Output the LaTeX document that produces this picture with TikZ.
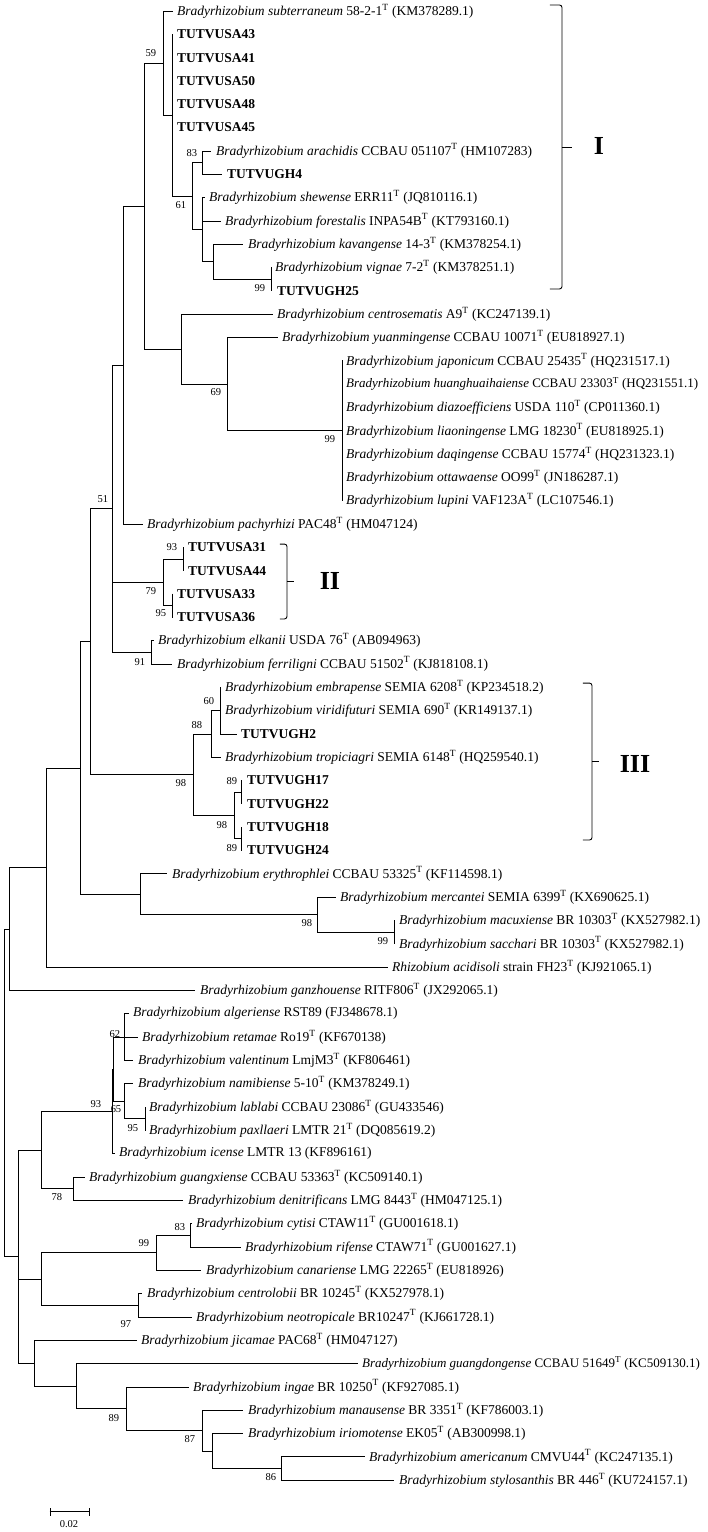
\documentclass[tikz,border=0pt]{standalone}
\usepackage{fontspec}
\setmainfont{Liberation Serif}
\newcommand\tsup{\textsuperscript{T}}
\begin{document}
\begin{tikzpicture}[x=1pt,y=-23.32pt,
  br/.style={line width=0.75pt,line cap=rect},
  leaf/.style={anchor=west,inner sep=0pt,font=\fontsize{13.5}{14}\selectfont},
  leafn/.style={anchor=west,inner sep=0pt,font=\fontsize{13}{14}\selectfont},
  boot/.style={inner sep=0pt,font=\fontsize{10.5}{11}\selectfont},
  roman/.style={inner sep=0pt,font=\fontsize{26}{28}\selectfont\bfseries},
  brk/.style={line width=0.9pt,rounded corners=2.5pt}]
\useasboundingbox (0,0.5283) rectangle (708,66.224);
% internal nodes
\coordinate (root) at (4.6,47.39);
\coordinate (n9) at (9,40.37);
\coordinate (n46) at (46,37.73);
\coordinate (n80) at (80,33.46);
\coordinate (n90) at (90,28.05);
\coordinate (n82) at (112,22.34);
\coordinate (n89) at (123,16.18);
\coordinate (n105) at (144,9.37);
\coordinate (n118) at (163,3.23);
\coordinate (n125) at (172,5.47);
\coordinate (n139) at (192,8.94);
\coordinate (n147a) at (202,7.5);
\coordinate (n147b) at (202,10.375);
\coordinate (n155) at (213,11.75);
\coordinate (n197) at (271,12.5);
\coordinate (n132) at (181,15.5);
\coordinate (n165) at (227,17);
\coordinate (n248) at (342,19);
\coordinate (nII) at (163,25.5);
\coordinate (n133) at (183,24.5);
\coordinate (n125b) at (172,26.5);
\coordinate (n110) at (151,28.5);
\coordinate (n140) at (193,33.75);
\coordinate (n153) at (211,32);
\coordinate (n160) at (220,31);
\coordinate (n170) at (234,35.5);
\coordinate (n175a) at (241,34.5);
\coordinate (n175b) at (241,36.5);
\coordinate (n140b) at (140,38.875);
\coordinate (n317) at (317,39.75);
\coordinate (n287) at (394,40.5);
\coordinate (n18) at (18,54.41);
\coordinate (n41) at (41,49.84);
\coordinate (n112) at (112,48.19);
\coordinate (nY) at (113,46.375);
\coordinate (n124a) at (124,45);
\coordinate (n124b) at (124,47.75);
\coordinate (n145) at (145,48.5);
\coordinate (n73) at (73,51.5);
\coordinate (n41b) at (41,55.375);
\coordinate (n156) at (156,54.25);
\coordinate (n190) at (190,53.5);
\coordinate (n138) at (138,56.5);
\coordinate (n34) at (34,58.98);
\coordinate (n76) at (76,59.97);
\coordinate (n126) at (126,60.94);
\coordinate (n202) at (202,61.875);
\coordinate (n212) at (212,62.75);
\coordinate (n281) at (281,63.5);
% tips and leaf labels
\coordinate (t1) at (173,1); \node[leaf] (L1) at (177,1) {\textit{Bradyrhizobium subterraneum} 58-2-1\tsup{} (KM378289.1)};
\coordinate (t2) at (172,2); \node[leaf] (L2) at (177,2) {\textbf{TUTVUSA43}};
\coordinate (t3) at (172,3); \node[leaf] (L3) at (177,3) {\textbf{TUTVUSA41}};
\coordinate (t4) at (172,4); \node[leaf] (L4) at (177,4) {\textbf{TUTVUSA50}};
\coordinate (t5) at (172,5); \node[leaf] (L5) at (177,5) {\textbf{TUTVUSA48}};
\coordinate (t6) at (172,6); \node[leaf] (L6) at (177,6) {\textbf{TUTVUSA45}};
\coordinate (t7) at (211,7); \node[leaf] (L7) at (216,7) {\textit{Bradyrhizobium arachidis} CCBAU 051107\tsup{} (HM107283)};
\coordinate (t8) at (222,8); \node[leaf] (L8) at (227,8) {\textbf{TUTVUGH4}};
\coordinate (t9) at (205,9); \node[leaf] (L9) at (209,9) {\textit{Bradyrhizobium shewense} ERR11\tsup{} (JQ810116.1)};
\coordinate (t10) at (221,10); \node[leaf] (L10) at (225,10) {\textit{Bradyrhizobium forestalis} INPA54B\tsup{} (KT793160.1)};
\coordinate (t11) at (243,11); \node[leaf] (L11) at (248,11) {\textit{Bradyrhizobium kavangense} 14-3\tsup{} (KM378254.1)};
\coordinate (t12) at (271,12); \node[leaf] (L12) at (275,12) {\textit{Bradyrhizobium vignae} 7-2\tsup{} (KM378251.1)};
\coordinate (t13) at (271,13); \node[leaf] (L13) at (277,13) {\textbf{TUTVUGH25}};
\coordinate (t14) at (273,14); \node[leaf] (L14) at (277,14) {\textit{Bradyrhizobium centrosematis} A9\tsup{} (KC247139.1)};
\coordinate (t15) at (278,15); \node[leaf] (L15) at (282,15) {\textit{Bradyrhizobium yuanmingense} CCBAU 10071\tsup{} (EU818927.1)};
\coordinate (t16) at (342,16); \node[leaf] (L16) at (346,16) {\textit{Bradyrhizobium japonicum} CCBAU 25435\tsup{} (HQ231517.1)};
\coordinate (t17) at (342,17); \node[leafn] (L17) at (346,17) {\textit{Bradyrhizobium huanghuaihaiense} CCBAU 23303\tsup{} (HQ231551.1)};
\coordinate (t18) at (342,18); \node[leaf] (L18) at (346,18) {\textit{Bradyrhizobium diazoefficiens} USDA 110\tsup{} (CP011360.1)};
\coordinate (t19) at (342,19); \node[leaf] (L19) at (346,19) {\textit{Bradyrhizobium liaoningense} LMG 18230\tsup{} (EU818925.1)};
\coordinate (t20) at (342,20); \node[leaf] (L20) at (346,20) {\textit{Bradyrhizobium daqingense} CCBAU 15774\tsup{} (HQ231323.1)};
\coordinate (t21) at (342,21); \node[leaf] (L21) at (346,21) {\textit{Bradyrhizobium ottawaense} OO99\tsup{} (JN186287.1)};
\coordinate (t22) at (342,22); \node[leaf] (L22) at (346,22) {\textit{Bradyrhizobium lupini} VAF123A\tsup{} (LC107546.1)};
\coordinate (t23) at (143,23); \node[leaf] (L23) at (147,23) {\textit{Bradyrhizobium pachyrhizi} PAC48\tsup{} (HM047124)};
\coordinate (t24) at (183,24); \node[leaf] (L24) at (188,24) {\textbf{TUTVUSA31}};
\coordinate (t25) at (183,25); \node[leaf] (L25) at (188,25) {\textbf{TUTVUSA44}};
\coordinate (t26) at (172,26); \node[leaf] (L26) at (177,26) {\textbf{TUTVUSA33}};
\coordinate (t27) at (172,27); \node[leaf] (L27) at (177,27) {\textbf{TUTVUSA36}};
\coordinate (t28) at (154,28); \node[leaf] (L28) at (158,28) {\textit{Bradyrhizobium elkanii} USDA 76\tsup{} (AB094963)};
\coordinate (t29) at (172,29); \node[leaf] (L29) at (177,29) {\textit{Bradyrhizobium ferriligni} CCBAU 51502\tsup{} (KJ818108.1)};
\coordinate (t30) at (221,30); \node[leaf] (L30) at (225,30) {\textit{Bradyrhizobium embrapense} SEMIA 6208\tsup{} (KP234518.2)};
\coordinate (t31) at (221,31); \node[leaf] (L31) at (225,31) {\textit{Bradyrhizobium viridifuturi} SEMIA 690\tsup{} (KR149137.1)};
\coordinate (t32) at (237,32); \node[leaf] (L32) at (241,32) {\textbf{TUTVUGH2}};
\coordinate (t33) at (221,33); \node[leaf] (L33) at (225,33) {\textit{Bradyrhizobium tropiciagri} SEMIA 6148\tsup{} (HQ259540.1)};
\coordinate (t34) at (241,34); \node[leaf] (L34) at (247,34) {\textbf{TUTVUGH17}};
\coordinate (t35) at (241,35); \node[leaf] (L35) at (247,35) {\textbf{TUTVUGH22}};
\coordinate (t36) at (241,36); \node[leaf] (L36) at (247,36) {\textbf{TUTVUGH18}};
\coordinate (t37) at (241,37); \node[leaf] (L37) at (247,37) {\textbf{TUTVUGH24}};
\coordinate (t38) at (167,38); \node[leaf] (L38) at (172,38) {\textit{Bradyrhizobium erythrophlei} CCBAU 53325\tsup{} (KF114598.1)};
\coordinate (t39) at (336,39); \node[leaf] (L39) at (340,39) {\textit{Bradyrhizobium mercantei} SEMIA 6399\tsup{} (KX690625.1)};
\coordinate (t40) at (394,40); \node[leaf] (L40) at (399,40) {\textit{Bradyrhizobium macuxiense} BR 10303\tsup{} (KX527982.1)};
\coordinate (t41) at (394,41); \node[leaf] (L41) at (399,41) {\textit{Bradyrhizobium sacchari} BR 10303\tsup{} (KX527982.1)};
\coordinate (t42) at (388,42); \node[leaf] (L42) at (392,42) {\textit{Rhizobium acidisoli} strain FH23\tsup{} (KJ921065.1)};
\coordinate (t43) at (195,43); \node[leaf] (L43) at (200,43) {\textit{Bradyrhizobium ganzhouense} RITF806\tsup{} (JX292065.1)};
\coordinate (t44) at (129,44); \node[leaf] (L44) at (133,44) {\textit{Bradyrhizobium algeriense} RST89 (FJ348678.1)};
\coordinate (t45) at (138,45); \node[leaf] (L45) at (142,45) {\textit{Bradyrhizobium retamae} Ro19\tsup{} (KF670138)};
\coordinate (t46) at (133,46); \node[leaf] (L46) at (138,46) {\textit{Bradyrhizobium valentinum} LmjM3\tsup{} (KF806461)};
\coordinate (t47) at (133,47); \node[leaf] (L47) at (138,47) {\textit{Bradyrhizobium namibiense} 5-10\tsup{} (KM378249.1)};
\coordinate (t48) at (145,48); \node[leaf] (L48) at (149,48) {\textit{Bradyrhizobium lablabi} CCBAU 23086\tsup{} (GU433546)};
\coordinate (t49) at (145,49); \node[leaf] (L49) at (149,49) {\textit{Bradyrhizobium paxllaeri} LMTR 21\tsup{} (DQ085619.2)};
\coordinate (t50) at (115,50); \node[leaf] (L50) at (119,50) {\textit{Bradyrhizobium icense} LMTR 13 (KF896161)};
\coordinate (t51) at (85,51); \node[leaf] (L51) at (89,51) {\textit{Bradyrhizobium guangxiense} CCBAU 53363\tsup{} (KC509140.1)};
\coordinate (t52) at (183,52); \node[leaf] (L52) at (188,52) {\textit{Bradyrhizobium denitrificans} LMG 8443\tsup{} (HM047125.1)};
\coordinate (t53) at (192,53); \node[leaf] (L53) at (196,53) {\textit{Bradyrhizobium cytisi} CTAW11\tsup{} (GU001618.1)};
\coordinate (t54) at (241,54); \node[leaf] (L54) at (245,54) {\textit{Bradyrhizobium rifense} CTAW71\tsup{} (GU001627.1)};
\coordinate (t55) at (201,55); \node[leaf] (L55) at (206,55) {\textit{Bradyrhizobium canariense} LMG 22265\tsup{} (EU818926)};
\coordinate (t56) at (142,56); \node[leaf] (L56) at (147,56) {\textit{Bradyrhizobium centrolobii} BR 10245\tsup{} (KX527978.1)};
\coordinate (t57) at (192,57); \node[leaf] (L57) at (196,57) {\textit{Bradyrhizobium neotropicale} BR10247\tsup{} (KJ661728.1)};
\coordinate (t58) at (137,58); \node[leaf] (L58) at (141,58) {\textit{Bradyrhizobium jicamae} PAC68\tsup{} (HM047127)};
\coordinate (t59) at (358,59); \node[leafn] (L59) at (362,59) {\textit{Bradyrhizobium guangdongense} CCBAU 51649\tsup{} (KC509130.1)};
\coordinate (t60) at (189,60); \node[leaf] (L60) at (193,60) {\textit{Bradyrhizobium ingae} BR 10250\tsup{} (KF927085.1)};
\coordinate (t61) at (243,61); \node[leaf] (L61) at (248,61) {\textit{Bradyrhizobium manausense} BR 3351\tsup{} (KF786003.1)};
\coordinate (t62) at (243,62); \node[leaf] (L62) at (248,62) {\textit{Bradyrhizobium iriomotense} EK05\tsup{} (AB300998.1)};
\coordinate (t63) at (365,63); \node[leaf] (L63) at (369,63) {\textit{Bradyrhizobium americanum} CMVU44\tsup{} (KC247135.1)};
\coordinate (t64) at (394,64); \node[leaf] (L64) at (399,64) {\textit{Bradyrhizobium stylosanthis} BR 446\tsup{} (KU724157.1)};
% branches
\foreach \p/\c in {root/n9,root/n18,n9/n46,n9/t43,n46/n80,n46/t42,n80/n90,n80/n140b,
  n90/n82,n90/n140,n82/n89,n82/nII,n82/n110,n89/n105,n89/t23,n105/n118,n105/n132,
  n118/t1,n118/n125,n125/t2,n125/t3,n125/t4,n125/t5,n125/t6,n125/n139,
  n139/n147a,n139/n147b,n147a/t7,n147a/t8,n147b/t9,n147b/t10,n147b/n155,
  n155/t11,n155/n197,n197/t12,n197/t13,n132/t14,n132/n165,n165/t15,n165/n248,
  n248/t16,n248/t17,n248/t18,n248/t19,n248/t20,n248/t21,n248/t22,
  nII/n133,nII/n125b,n133/t24,n133/t25,n125b/t26,n125b/t27,n110/t28,n110/t29,
  n140/n153,n140/n170,n153/n160,n153/t33,n160/t30,n160/t31,n160/t32,
  n170/n175a,n170/n175b,n175a/t34,n175a/t35,n175b/t36,n175b/t37,
  n140b/t38,n140b/n317,n317/t39,n317/n287,n287/t40,n287/t41,
  n18/n41,n18/n41b,n18/n34,n41/n112,n41/n73,n112/nY,n112/t50,nY/n124a,nY/n124b,
  n124a/t44,n124a/t45,n124a/t46,n124b/t47,n124b/n145,n145/t48,n145/t49,n73/t51,n73/t52,
  n41b/n156,n41b/n138,n156/n190,n156/t55,n190/t53,n190/t54,n138/t56,n138/t57,
  n34/t58,n34/n76,n76/t59,n76/n126,n126/t60,n126/n202,n202/t61,n202/n212,
  n212/t62,n212/n281,n281/t63,n281/t64}
  {\draw[br] (\p) |- (\c);}
% bootstrap values
\node[boot] (b1) at (151,2.80) {59};
\node[boot] (b2) at (192,7.09) {83};
\node[boot] (b3) at (181,9.32) {61};
\node[boot] (b4) at (260,12.88) {99};
\node[boot] (b5) at (216,17.34) {69};
\node[boot] (b6) at (330,19.35) {99};
\node[boot] (b7) at (103,21.93) {51};
\node[boot] (b8) at (172,23.98) {93};
\node[boot] (b9) at (151,25.87) {79};
\node[boot] (b10) at (161,26.81) {95};
\node[boot] (b11) at (140,28.92) {91};
\node[boot] (b12) at (209,30.59) {60};
\node[boot] (b13) at (197,31.62) {88};
\node[boot] (b14) at (181,34.10) {98};
\node[boot] (b15) at (232,34.02) {89};
\node[boot] (b16) at (222,35.9) {98};
\node[boot] (b17) at (232,36.89) {89};
\node[boot] (b18) at (307,40.11) {98};
\node[boot] (b19) at (383,40.88) {99};
\node[boot] (b20) at (115,44.87) {62};
\node[boot] (b21) at (96,47.87) {93};
\node[boot] (b22) at (116,48.08) {65};
\node[boot] (b23) at (133,48.9) {95};
\node[boot] (b24) at (57,51.86) {78};
\node[boot] (b25) at (180,53.14) {83};
\node[boot] (b26) at (144,53.83) {99};
\node[boot] (b27) at (126,57.3) {97};
\node[boot] (b28) at (114,61.33) {89};
\node[boot] (b29) at (190,62.24) {87};
\node[boot] (b30) at (271,63.86) {86};
% cluster brackets
\coordinate (kIa) at (550,0.743); \coordinate (kIb) at (562,0.743);
\coordinate (kIc) at (562,12.92); \coordinate (kId) at (550,12.92);
\coordinate (kIm) at (562,6.83); \coordinate (kIt) at (572,6.83);
\draw[brk] (kIa) -- (kIb) -- (kIc) -- (kId);
\draw[brk] (kIm) -- (kIt);
\node[roman] (RI) at (599,6.79) {I};
\coordinate (kIIa) at (280,23.86); \coordinate (kIIb) at (287,23.86);
\coordinate (kIIc) at (287,27.07); \coordinate (kIId) at (280,27.07);
\coordinate (kIIm) at (287,25.46); \coordinate (kIIt) at (294,25.46);
\draw[brk] (kIIa) -- (kIIb) -- (kIIc) -- (kIId);
\draw[brk] (kIIm) -- (kIIt);
\node[roman] (RII) at (330,25.44) {II};
\coordinate (kIIIa) at (583,29.82); \coordinate (kIIIb) at (592,29.82);
\coordinate (kIIIc) at (592,36.55); \coordinate (kIIId) at (583,36.55);
\coordinate (kIIIm) at (592,33.18); \coordinate (kIIIt) at (599,33.18);
\draw[brk] (kIIIa) -- (kIIIb) -- (kIIIc) -- (kIIId);
\draw[brk] (kIIIm) -- (kIIIt);
\node[roman] (RIII) at (635,33.29) {III};
% scale bar
\coordinate (sa) at (50,65.36); \coordinate (sb) at (89,65.36);
\draw[br] (sa) -- (sb);
\draw[br] ([yshift=3.5pt]sa) -- ([yshift=-3.5pt]sa);
\draw[br] ([yshift=3.5pt]sb) -- ([yshift=-3.5pt]sb);
\node[boot] (sl) at (69,65.88) {0.02};
\end{tikzpicture}
\end{document}
